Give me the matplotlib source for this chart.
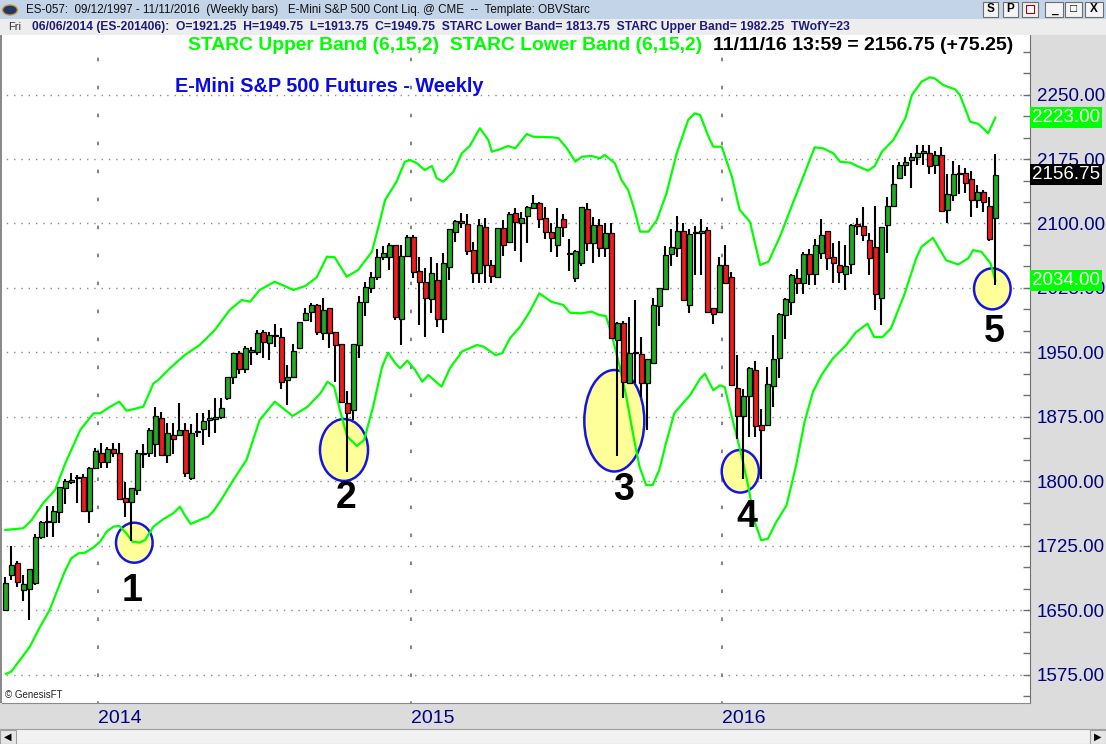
import matplotlib
matplotlib.use("Agg")
import matplotlib.pyplot as plt
import matplotlib.transforms as mtransforms
from matplotlib.patches import Rectangle, Ellipse, Circle
from matplotlib.ticker import MultipleLocator, FormatStrFormatter

plt.rcParams['font.family'] = ['Liberation Sans', 'DejaVu Sans']

W, H = 1106, 744

# weekly bars, one value per week (13 Sep 2013 .. 11 Nov 2016)
opens = [
    1650.5, 1691.25, 1705.5, 1673.75, 1674.5, 1682.5, 1736.0, 1752.5, 1753.0, 1765.0,
    1792.0, 1799.0, 1804.0, 1804.75, 1766.0, 1815.25, 1833.5, 1823.0, 1837.5, 1833.5,
    1780.5, 1776.5, 1790.0, 1832.0, 1833.5, 1843.5, 1873.5, 1830.75, 1854.0, 1854.0,
    1860.0, 1803.75, 1857.0, 1860.75, 1872.0, 1873.0, 1874.5, 1896.75, 1921.25, 1949.0,
    1931.0, 1951.0, 1951.0, 1974.0, 1961.5, 1969.0, 1968.5, 1918.0, 1922.0, 1954.75,
    1987.75, 1997.5, 2005.25, 1972.25, 2001.5, 1974.25, 1960.0, 1891.75, 1883.0, 1958.75,
    2009.0, 2024.5, 2037.5, 2060.75, 2061.5, 2075.0, 1988.5, 2062.25, 2084.75, 2045.25,
    2032.5, 2011.75, 2034.25, 1988.5, 2049.0, 2090.5, 2103.0, 2099.0, 2069.25, 2042.0,
    2096.25, 2051.75, 2038.25, 2094.5, 2079.0, 2111.75, 2100.25, 2108.75, 2117.5, 2123.5,
    2106.0, 2090.5, 2075.0, 2104.75, 2064.5, 2036.25, 2053.75, 2116.5, 2077.0, 2098.25,
    2071.0, 2088.5, 1964.5, 1984.75, 1915.0, 1951.0, 1948.25, 1914.0, 1937.5, 2004.0,
    2023.5, 2064.5, 2071.0, 2091.75, 2005.25, 2089.0, 2089.5, 2092.0, 2001.75, 1997.0,
    2052.0, 2037.75, 1908.75, 1876.0, 1899.5, 1929.25, 1866.0, 1865.25, 1911.0, 1943.5,
    1994.0, 2008.75, 2036.5, 2031.0, 2065.0, 2041.5, 2066.0, 2090.75, 2061.0, 2052.0,
    2041.5, 2053.25, 2099.75, 2097.0, 2080.5, 2072.75, 2013.5, 2098.75, 2120.5, 2153.0,
    2168.0, 2173.5, 2177.5, 2181.5, 2182.5, 2167.75, 2179.5, 2115.5, 2133.0, 2157.0,
    2159.25, 2151.5, 2127.25, 2137.0, 2120.5, 2106.5,
]
highs = [
    1688.5, 1725.0, 1707.0, 1691.25, 1698.0, 1739.0, 1754.5, 1771.5, 1771.5, 1794.0,
    1802.5, 1810.25, 1807.5, 1808.75, 1816.5, 1838.5, 1844.5, 1840.5, 1845.25, 1844.5,
    1799.75, 1792.0, 1836.5, 1843.5, 1861.75, 1887.0, 1881.25, 1868.5, 1867.5, 1891.0,
    1867.5, 1867.0, 1879.25, 1880.0, 1883.0, 1896.75, 1896.75, 1922.0, 1949.75, 1952.0,
    1958.0, 1956.75, 1976.0, 1976.0, 1974.0, 1983.0, 1978.0, 1935.5, 1960.0, 1986.0,
    2001.5, 2008.0, 2006.0, 2013.0, 2001.5, 1974.25, 1960.0, 1905.25, 1960.0, 2015.75,
    2032.5, 2044.0, 2070.0, 2073.75, 2077.75, 2075.0, 2075.0, 2086.5, 2086.5, 2060.75,
    2048.0, 2060.75, 2053.75, 2066.0, 2093.25, 2104.25, 2112.75, 2110.75, 2078.5, 2104.75,
    2106.0, 2057.5, 2094.5, 2104.0, 2113.75, 2117.5, 2113.75, 2120.0, 2133.0, 2125.5,
    2118.75, 2100.25, 2117.5, 2111.0, 2081.5, 2069.25, 2119.0, 2124.25, 2108.0, 2104.75,
    2101.0, 2101.0, 1986.0, 1987.0, 1991.75, 2011.0, 1967.5, 1942.0, 2013.0, 2025.0,
    2073.75, 2093.25, 2108.75, 2100.25, 2093.25, 2097.0, 2105.5, 2096.0, 2002.0, 2061.0,
    2075.25, 2043.5, 1947.5, 1908.0, 1933.0, 1939.75, 1884.0, 1933.0, 1970.0, 1996.25,
    2013.25, 2041.5, 2047.5, 2066.75, 2070.75, 2082.25, 2105.5, 2091.0, 2077.75, 2079.25,
    2075.25, 2099.0, 2106.5, 2119.25, 2089.5, 2120.5, 2096.0, 2131.0, 2168.5, 2171.75,
    2177.0, 2182.5, 2191.75, 2191.75, 2191.75, 2184.0, 2189.0, 2157.0, 2172.5, 2168.5,
    2164.75, 2161.0, 2145.25, 2139.0, 2131.0, 2181.25,
]
lows = [
    1650.0, 1685.5, 1677.75, 1661.5, 1639.0, 1679.75, 1732.75, 1735.0, 1735.0, 1752.0,
    1773.75, 1797.0, 1775.5, 1765.0, 1752.0, 1815.0, 1815.25, 1815.25, 1828.0, 1779.0,
    1759.0, 1731.25, 1784.25, 1815.25, 1828.0, 1829.0, 1830.75, 1822.0, 1832.0, 1854.0,
    1805.5, 1801.75, 1851.5, 1842.5, 1852.0, 1856.0, 1872.25, 1895.0, 1913.75, 1925.0,
    1926.0, 1935.5, 1947.0, 1943.25, 1941.25, 1956.75, 1908.0, 1889.0, 1922.0, 1954.75,
    1987.0, 1986.0, 1970.25, 1964.5, 1954.75, 1916.0, 1892.75, 1811.5, 1871.5, 1943.25,
    1992.5, 2019.5, 2034.25, 2057.5, 2046.0, 1987.75, 1958.75, 2062.0, 2036.25, 1982.0,
    1968.5, 1995.5, 1980.0, 1972.25, 2034.25, 2079.0, 2094.5, 2063.5, 2031.25, 2031.25,
    2031.25, 2031.25, 2038.0, 2062.25, 2077.0, 2068.5, 2055.5, 2077.75, 2117.0, 2094.5,
    2081.5, 2067.25, 2060.75, 2084.0, 2045.25, 2032.5, 2050.5, 2068.5, 2054.5, 2060.75,
    2060.75, 1966.0, 1829.75, 1896.75, 1914.0, 1915.0, 1898.5, 1860.0, 1937.0, 1980.75,
    2022.75, 2050.5, 2060.75, 2010.25, 1996.25, 2039.75, 2039.75, 1997.0, 1983.5, 1997.0,
    2031.0, 1911.75, 1849.75, 1803.25, 1851.75, 1851.75, 1803.25, 1865.0, 1886.5, 1920.25,
    1966.0, 1994.0, 2018.5, 2018.5, 2028.75, 2028.75, 2059.0, 2046.5, 2031.0, 2031.0,
    2022.25, 2041.5, 2087.0, 2079.25, 2040.5, 1999.25, 1981.5, 2066.0, 2120.0, 2151.5,
    2155.0, 2141.5, 2167.75, 2167.75, 2157.0, 2157.0, 2113.5, 2100.0, 2126.0, 2134.75,
    2136.0, 2107.75, 2117.5, 2113.5, 2079.5, 2028.25,
]
closes = [
    1681.5, 1703.0, 1683.5, 1680.75, 1698.0, 1736.0, 1753.0, 1753.5, 1765.25, 1793.25,
    1801.0, 1801.5, 1805.0, 1766.0, 1815.25, 1835.5, 1823.0, 1837.5, 1833.5, 1779.25,
    1776.5, 1792.0, 1833.5, 1833.0, 1860.0, 1876.25, 1830.75, 1856.0, 1849.0, 1860.0,
    1809.5, 1856.0, 1858.0, 1870.75, 1873.0, 1874.0, 1885.0, 1921.0, 1949.75, 1931.0,
    1955.0, 1952.0, 1973.0, 1962.5, 1970.25, 1969.5, 1916.0, 1922.0, 1952.0, 1986.0,
    1996.25, 2005.25, 1974.25, 1999.5, 1972.25, 1958.75, 1892.75, 1879.25, 1960.0, 2009.0,
    2025.75, 2037.5, 2060.75, 2065.25, 2075.0, 1991.0, 2062.25, 2084.0, 2044.0, 2031.5,
    2013.0, 2042.0, 1988.5, 2054.5, 2093.25, 2103.0, 2100.25, 2068.0, 2042.0, 2098.25,
    2051.75, 2039.0, 2094.5, 2075.0, 2111.0, 2102.25, 2106.0, 2119.5, 2123.5, 2104.75,
    2090.5, 2082.75, 2095.5, 2095.5, 2065.5, 2068.5, 2118.75, 2077.0, 2098.25, 2071.0,
    2088.5, 1966.5, 1984.75, 1916.0, 1949.75, 1949.0, 1914.0, 1942.0, 2005.25, 2024.5,
    2063.5, 2072.25, 2091.75, 2011.0, 2087.75, 2089.5, 2090.0, 1997.25, 1995.0, 2051.25,
    2031.25, 1911.75, 1876.0, 1899.5, 1932.0, 1864.5, 1859.5, 1913.75, 1942.0, 1995.0,
    2011.75, 2039.75, 2031.0, 2065.0, 2041.5, 2075.25, 2087.0, 2059.75, 2054.5, 2043.5,
    2050.5, 2098.5, 2097.0, 2087.0, 2060.0, 2018.5, 2096.0, 2120.5, 2146.5, 2168.5,
    2172.0, 2177.5, 2182.5, 2184.0, 2167.0, 2179.5, 2114.25, 2133.75, 2158.0, 2157.5,
    2147.5, 2127.25, 2137.0, 2124.5, 2081.5, 2156.75,
]

# STARC (6,15,2) bands: (week index, price)
upper_band = [
    (0, 1743.6), (3.0, 1745.6), (4.4, 1755.2), (6.3, 1774.7), (8.3, 1790.1), (10.0, 1821.2),
    (12.5, 1859.9), (14.7, 1879.3), (15.8, 1879.3), (17.5, 1887.0), (19.0, 1892.8),
    (20.2, 1882.3), (21.3, 1884.0), (23.0, 1887.0), (24.7, 1914.2), (25.5, 1918.0),
    (27.5, 1932.0), (29.9, 1947.0), (32.4, 1958.7), (34.9, 1976.0), (37.4, 1999.4),
    (39.4, 2011.0), (40.8, 2009.1), (42.4, 2022.7), (44.9, 2032.3), (48.0, 2022.7),
    (50.0, 2027.3), (51.9, 2037.4), (53.6, 2061.4), (54.9, 2060.7), (56.9, 2038.1),
    (58.8, 2045.9), (61.1, 2067.2), (62.2, 2096.3), (63.3, 2127.3), (65.2, 2148.6),
    (66.6, 2171.9), (67.5, 2173.8), (68.6, 2170.0), (69.9, 2162.2), (71.1, 2166.9),
    (71.9, 2152.6), (73.0, 2148.6), (74.7, 2160.3), (76.1, 2181.7), (77.4, 2190.1),
    (79.1, 2210.7), (80.5, 2197.1), (81.1, 2183.5), (82.4, 2186.3), (83.8, 2190.1),
    (85.0, 2187.4), (86.9, 2204.1), (88.0, 2200.9), (91.3, 2200.2), (92.2, 2199.1),
    (93.6, 2187.4), (95.0, 2171.9), (96.1, 2177.7), (97.7, 2178.5), (99.1, 2175.8),
    (99.9, 2179.7), (101.6, 2170.0), (102.7, 2150.6), (103.8, 2139.0), (104.7, 2119.5),
    (105.8, 2090.5), (107.2, 2090.5), (108.6, 2104.1), (110.2, 2135.1), (111.9, 2181.6),
    (113.8, 2220.3), (114.9, 2228.1), (115.8, 2226.2), (117.2, 2200.9), (118.0, 2189.3),
    (119.4, 2189.3), (121.1, 2154.4), (122.4, 2115.7), (124.1, 2102.1), (125.8, 2051.7),
    (127.2, 2055.6), (129.1, 2084.7), (131.9, 2135.1), (134.9, 2188.6), (136.3, 2187.4),
    (138.0, 2181.6), (139.1, 2171.9), (140.8, 2170.7), (142.2, 2166.1), (143.8, 2161.4),
    (144.9, 2166.9), (146.1, 2183.5), (148.0, 2197.1), (150.0, 2222.3), (151.1, 2249.4),
    (152.7, 2264.9), (154.1, 2270.0), (154.9, 2268.8), (156.3, 2261.0), (158.3, 2256.0),
    (159.1, 2249.4), (160.8, 2218.4), (162.2, 2215.7), (163.8, 2204.9), (165.0, 2223.0),
]
lower_band = [
    (0.1, 1576.2), (1.0, 1579.0), (2.4, 1592.0), (4.1, 1608.0), (5.8, 1631.0), (7.4, 1650.6),
    (8.8, 1675.8), (9.9, 1695.0), (11.0, 1710.7), (12.2, 1716.5), (13.3, 1717.2),
    (14.7, 1723.4), (15.8, 1730.0), (16.9, 1741.7), (18.0, 1747.5), (19.0, 1748.3),
    (20.1, 1740.5), (21.2, 1730.0), (22.4, 1728.9), (23.3, 1732.0), (24.7, 1747.5),
    (26.3, 1756.0), (28.0, 1763.0), (29.1, 1770.7), (29.9, 1761.0), (30.9, 1750.6),
    (32.4, 1755.2), (33.8, 1759.1), (34.7, 1765.7), (35.8, 1776.6), (38.0, 1801.7),
    (40.2, 1825.0), (42.4, 1871.5), (44.9, 1892.8), (47.9, 1876.2), (50.4, 1887.0),
    (52.6, 1903.3), (53.7, 1916.0), (54.8, 1910.3), (55.9, 1879.3), (57.0, 1852.1),
    (58.6, 1841.3), (59.8, 1848.3), (61.3, 1887.0), (62.8, 1933.5), (63.8, 1949.8),
    (65.0, 1937.4), (65.8, 1931.6), (67.0, 1940.5), (68.3, 1929.7), (69.5, 1916.0),
    (70.5, 1923.8), (72.7, 1910.3), (74.1, 1931.6), (76.1, 1951.0), (78.6, 1958.7),
    (79.7, 1956.8), (81.7, 1947.1), (82.8, 1949.0), (84.1, 1966.5), (85.8, 1980.0),
    (87.4, 1997.5), (89.0, 2018.8), (91.0, 2009.0), (93.0, 2005.2), (94.1, 1996.3),
    (96.0, 1995.5), (97.7, 1997.5), (99.0, 1993.6), (100.1, 1992.4), (101.0, 1972.3),
    (102.4, 1933.5), (103.5, 1898.6), (104.6, 1856.0), (105.7, 1817.2), (106.8, 1795.9),
    (107.9, 1796.0), (109.0, 1813.4), (110.1, 1844.4), (111.5, 1879.3), (112.9, 1890.9),
    (114.1, 1900.1), (115.8, 1919.5), (116.6, 1925.3), (118.0, 1906.0), (119.1, 1911.8),
    (119.9, 1909.8), (121.3, 1869.1), (122.7, 1830.4), (123.8, 1795.5), (124.9, 1752.9),
    (126.0, 1731.5), (127.1, 1733.5), (128.5, 1752.9), (130.2, 1772.2), (131.8, 1818.7),
    (133.2, 1869.1), (134.6, 1904.0), (136.0, 1923.4), (137.9, 1942.8), (140.1, 1958.3),
    (141.8, 1973.8), (143.7, 1983.5), (144.8, 1968.0), (146.2, 1968.0), (147.6, 1977.9),
    (149.8, 2016.6), (151.8, 2059.3), (152.7, 2073.0), (154.6, 2083.3), (156.8, 2057.3),
    (158.8, 2052.3), (160.5, 2059.5), (161.3, 2069.0), (162.7, 2067.0), (164.2, 2053.7),
    (165.0, 2034.0),
]

year_labels = ['2014', '2015', '2016']
year_pos = [15.45, 67.57, 119.5]
price_levels = [1575, 1650, 1725, 1800, 1875, 1950, 2025, 2100, 2175, 2250]

# marked lows: centre (week, price), width in weeks, height in points, label
markers = [
    (21.5, 1728.8, 6.1, 46.5, '1', 21.2, 1673.0),
    (56.45, 1836.6, 8.0, 72.0, '2', 56.8, 1781.0),
    (101.5, 1870.6, 10.0, 118.0, '3', 103.1, 1790.0),
    (122.5, 1811.9, 6.2, 49.6, '4', 123.6, 1759.0),
    (164.5, 2024.0, 6.1, 47.7, '5', 164.8, 1973.5),
]

last_price = 2156.75
upper_last = 2223.0
lower_last = 2034.0

GREEN = '#22A822'
RED = '#EE1C1C'
BAND = '#00FF00'
NAVY = '#000080'


def fx(x):
    return x / W


def fy(y):
    return 1 - y / H


def px_rect(x0, y0, x1, y1, **kw):
    r = Rectangle((fx(x0), fy(y1)), (x1 - x0) / W, (y1 - y0) / H,
                  transform=fig.transFigure, **kw)
    fig.add_artist(r)
    return r


fig = plt.figure(figsize=(W / 100, H / 100), dpi=100, facecolor='#DCDCDC')

# window chrome
px_rect(0, 0, W, 19, facecolor='#C3D4E8', edgecolor='none')
px_rect(0, 19, W, 35, facecolor='#EDEDED', edgecolor='none')
px_rect(0, 35, 2, 703, facecolor='#8A8A8A', edgecolor='none')
fig.add_artist(Circle((fx(10), fy(10)), 7.5 / W, transform=fig.transFigure,
                      facecolor='#27356A', edgecolor='#C8A030', lw=1))
fig.text(fx(26), fy(10), 'ES-057:  09/12/1997 - 11/11/2016  (Weekly bars)   '
         'E-Mini S&P 500 Cont Liq. @ CME  --  Template: OBVStarc',
         fontsize=8.4, color='#111111', va='center', ha='left')
for x0, x1, lab in [(983, 998, 'S'), (1003, 1018, 'P'), (1022, 1038, ''),
                    (1045, 1063, '_'), (1065, 1082, '\u25a1'), (1085, 1103, 'X')]:
    px_rect(x0, 2, x1, 17, facecolor='#F4F4F4', edgecolor='#6E6E6E', lw=0.8)
    fig.text(fx((x0 + x1) / 2), fy(9.5), lab, fontsize=8.5, fontweight='bold',
             ha='center', va='center', color='black')
px_rect(1026, 5, 1034, 13, facecolor='white', edgecolor='#B00000', lw=0.8)
fig.text(fx(8), fy(27), 'Fri', fontsize=8, color='#333333', va='center')
fig.text(fx(32), fy(27), '06/06/2014 (ES-201406):  O=1921.25  H=1949.75  L=1913.75  '
         'C=1949.75  STARC Lower Band= 1813.75  STARC Upper Band= 1982.25  TWofY=23',
         fontsize=8.75, fontweight='bold', color='#1C1C7A', va='center')

# scroll bar
px_rect(0, 729, W, H, facecolor='#F2F2F2', edgecolor='#A0A0A0', lw=0.8)
px_rect(0, 730, 16, H, facecolor='#E6E6E6', edgecolor='#A0A0A0', lw=0.8)
px_rect(1090, 730, W, H, facecolor='#E6E6E6', edgecolor='#A0A0A0', lw=0.8)
fig.text(fx(8), fy(737), '\u25c0', fontsize=7, ha='center', va='center',
         family='DejaVu Sans')
fig.text(fx(1098), fy(737), '\u25b6', fontsize=7, ha='center', va='center',
         family='DejaVu Sans')

# price chart
ax = fig.add_axes([fx(2), fy(703), (1030 - 2) / W, (703 - 35) / H])
ax.set_facecolor('white')
ax.set_xlim(-0.55, 170.78)
ax.set_ylim(1542.4, 2319.2)

ax.hlines(price_levels, -1, 172, colors='#8C8C8C', linestyles=(0, (1.0, 4.25)),
          lw=1.0, zorder=0.5)
ax.vlines(year_pos, 1540, 2320, colors='#7A7A7A', linestyles=(0, (2.0, 13.5)),
          lw=1.3, zorder=0.5)

for cx, cy, ew, eh, lab, tx, ty in markers:
    ax.add_patch(Ellipse((cx, cy), ew, eh, facecolor='#FFFF99',
                         edgecolor='#1414E6', lw=1.8, zorder=1))
    ax.text(tx, ty, lab, fontsize=27, fontweight='bold', color='black',
            ha='center', va='center', zorder=7)

ax.plot([p for p, v in upper_band], [v for p, v in upper_band],
        color=BAND, lw=1.6, zorder=2)
ax.plot([p for p, v in lower_band], [v for p, v in lower_band],
        color=BAND, lw=1.6, zorder=2)

idx = list(range(len(closes)))
ax.vlines(idx, lows, highs, color='black', lw=1.5, zorder=3)
bottoms = [min(o, c) for o, c in zip(opens, closes)]
heights = [max(abs(c - o), 1.6) for o, c in zip(opens, closes)]
colors = [GREEN if c >= o else RED for o, c in zip(opens, closes)]
ax.bar(idx, heights, bottom=bottoms, width=0.74, color=colors,
       edgecolor='black', lw=0.9, zorder=4)

# axes styling
for side in ['top', 'left']:
    ax.spines[side].set_visible(False)
ax.spines['right'].set_color('#6E6E6E')
ax.spines['bottom'].set_color('#8A8A8A')
ax.yaxis.tick_right()
ax.set_yticks(price_levels)
ax.yaxis.set_minor_locator(MultipleLocator(25))
ax.yaxis.set_major_formatter(FormatStrFormatter('%.2f'))
ax.tick_params(axis='y', which='both', direction='in', length=5, width=1,
               color='#6E6E6E', pad=5, labelsize=13.5, labelcolor=NAVY)
ax.set_xticks(year_pos)
ax.set_xticklabels(year_labels, ha='left')
ax.tick_params(axis='x', length=0, pad=5, labelsize=14, labelcolor=NAVY)

tr = mtransforms.blended_transform_factory(ax.transAxes, ax.transData)
for val, bg in [(upper_last, BAND), (last_price, 'black'), (lower_last, BAND)]:
    ax.text(1.002, val, f'{val:.2f}', transform=tr, fontsize=13.5, color='white',
            ha='left', va='center', clip_on=False, zorder=8,
            bbox=dict(boxstyle='square,pad=0.12', facecolor=bg, edgecolor='none'))

fig.text(fx(188), fy(46), 'STARC Upper Band (6,15,2)  STARC Lower Band (6,15,2)',
         fontsize=13.9, fontweight='bold', color=BAND, va='center', ha='left')
fig.text(fx(713), fy(46), '11/11/16 13:59 = 2156.75 (+75.25)', fontsize=14,
         fontweight='bold', color='black', va='center', ha='left')
fig.text(fx(175), fy(87), 'E-Mini S&P 500 Futures - Weekly', fontsize=14.3,
         fontweight='bold', color='#0A0AE6', va='center', ha='left')
fig.text(fx(5), fy(695), '\u00a9 GenesisFT', fontsize=7, color='#222222',
         va='center', ha='left')

fig.savefig('out.png', dpi=100, facecolor=fig.get_facecolor())
